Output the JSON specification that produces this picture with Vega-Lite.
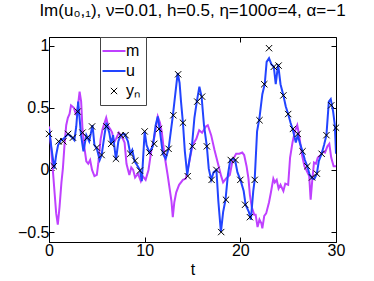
{
"$schema":"https://vega.github.io/schema/vega-lite/v6.json",
"width":287,"height":205,
"autosize":"none",
"padding":{"left":49,"top":37,"right":38,"bottom":39},
"background":"white",
"config":{"font":"Liberation Sans","view":{"stroke":"black","strokeWidth":1},
 "axis":{"domainColor":"black","tickColor":"black","labelColor":"black","titleColor":"black","labelFontSize":16,"titleFontSize":16,"titleFontWeight":"normal","grid":false,"tickSize":-5,"labelFlush":false,"labelOverlap":false,"labelFont":"Liberation Sans","titleFont":"Liberation Sans"}},
"title":{"text":"Im(u₀,₁), ν=0.01, h=0.5, η=100σ=4, α=−1","fontSize":17,"fontWeight":"normal","color":"black","anchor":"middle","offset":4,"baseline":"alphabetic","font":"Liberation Sans"},
"data":{"values":[
{"s":"m","t":0,"v":0.35},{"s":"m","t":0.2,"v":0.2},{"s":"m","t":0.4,"v":0.0},{"s":"m","t":0.6,"v":-0.2},{"s":"m","t":0.75,"v":-0.35},{"s":"m","t":0.92,"v":-0.44},{"s":"m","t":1.1,"v":-0.3},{"s":"m","t":1.3,"v":-0.1},{"s":"m","t":1.45,"v":0.01},{"s":"m","t":1.62,"v":0.2},{"s":"m","t":1.8,"v":0.36},{"s":"m","t":1.97,"v":0.42},{"s":"m","t":2.15,"v":0.45},{"s":"m","t":2.3,"v":0.52},{"s":"m","t":2.6,"v":0.5},{"s":"m","t":2.84,"v":0.44},{"s":"m","t":3.0,"v":0.5},{"s":"m","t":3.2,"v":0.63},{"s":"m","t":3.36,"v":0.55},{"s":"m","t":3.5,"v":0.33},{"s":"m","t":3.7,"v":0.18},{"s":"m","t":3.9,"v":0.07},{"s":"m","t":4.1,"v":0.05},{"s":"m","t":4.3,"v":0.08},{"s":"m","t":4.5,"v":0.0},{"s":"m","t":4.75,"v":-0.05},{"s":"m","t":5.0,"v":-0.04},{"s":"m","t":5.15,"v":0.05},{"s":"m","t":5.4,"v":0.25},{"s":"m","t":5.6,"v":0.33},{"s":"m","t":5.98,"v":0.42},{"s":"m","t":6.2,"v":0.35},{"s":"m","t":6.4,"v":0.33},{"s":"m","t":6.6,"v":0.3},{"s":"m","t":6.8,"v":0.22},{"s":"m","t":7.0,"v":0.25},{"s":"m","t":7.3,"v":0.3},{"s":"m","t":7.6,"v":0.27},{"s":"m","t":7.9,"v":0.22},{"s":"m","t":8.1,"v":0.05},{"s":"m","t":8.4,"v":-0.04},{"s":"m","t":8.6,"v":0.02},{"s":"m","t":8.8,"v":0.0},{"s":"m","t":9.0,"v":-0.06},{"s":"m","t":9.3,"v":-0.03},{"s":"m","t":9.6,"v":-0.09},{"s":"m","t":9.8,"v":-0.05},{"s":"m","t":10.1,"v":-0.08},{"s":"m","t":10.4,"v":0.0},{"s":"m","t":10.7,"v":0.16},{"s":"m","t":11.0,"v":0.26},{"s":"m","t":11.37,"v":0.43},{"s":"m","t":11.6,"v":0.38},{"s":"m","t":11.8,"v":0.3},{"s":"m","t":12.07,"v":0.12},{"s":"m","t":12.4,"v":-0.04},{"s":"m","t":12.8,"v":-0.25},{"s":"m","t":12.94,"v":-0.38},{"s":"m","t":13.1,"v":-0.26},{"s":"m","t":13.3,"v":-0.18},{"s":"m","t":13.6,"v":-0.12},{"s":"m","t":14.0,"v":-0.08},{"s":"m","t":14.3,"v":-0.07},{"s":"m","t":14.7,"v":0.08},{"s":"m","t":15.0,"v":0.2},{"s":"m","t":15.4,"v":0.25},{"s":"m","t":15.7,"v":0.32},{"s":"m","t":16.0,"v":0.3},{"s":"m","t":16.4,"v":0.35},{"s":"m","t":16.6,"v":0.36},{"s":"m","t":16.95,"v":0.28},{"s":"m","t":17.3,"v":0.16},{"s":"m","t":17.7,"v":0.04},{"s":"m","t":18.0,"v":-0.05},{"s":"m","t":18.2,"v":-0.1},{"s":"m","t":18.5,"v":-0.07},{"s":"m","t":18.9,"v":-0.04},{"s":"m","t":19.2,"v":0.08},{"s":"m","t":19.56,"v":0.13},{"s":"m","t":19.9,"v":0.13},{"s":"m","t":20.2,"v":0.14},{"s":"m","t":20.4,"v":0.12},{"s":"m","t":20.65,"v":0.03},{"s":"m","t":20.85,"v":-0.07},{"s":"m","t":21.0,"v":-0.2},{"s":"m","t":21.2,"v":-0.3},{"s":"m","t":21.45,"v":-0.36},{"s":"m","t":21.6,"v":-0.36},{"s":"m","t":21.8,"v":-0.46},{"s":"m","t":22.0,"v":-0.4},{"s":"m","t":22.2,"v":-0.43},{"s":"m","t":22.3,"v":-0.47},{"s":"m","t":22.5,"v":-0.37},{"s":"m","t":22.7,"v":-0.35},{"s":"m","t":23.0,"v":-0.26},{"s":"m","t":23.2,"v":-0.18},{"s":"m","t":23.45,"v":-0.07},{"s":"m","t":23.6,"v":-0.1},{"s":"m","t":23.8,"v":-0.08},{"s":"m","t":24.0,"v":-0.15},{"s":"m","t":24.2,"v":-0.12},{"s":"m","t":24.5,"v":-0.17},{"s":"m","t":24.7,"v":-0.11},{"s":"m","t":25.0,"v":-0.12},{"s":"m","t":25.2,"v":0.1},{"s":"m","t":25.45,"v":0.22},{"s":"m","t":25.7,"v":0.31},{"s":"m","t":25.95,"v":0.36},{"s":"m","t":26.1,"v":0.3},{"s":"m","t":26.3,"v":0.2},{"s":"m","t":26.45,"v":0.12},{"s":"m","t":26.7,"v":0.03},{"s":"m","t":26.95,"v":-0.01},{"s":"m","t":27.2,"v":-0.05},{"s":"m","t":27.35,"v":-0.24},{"s":"m","t":27.5,"v":-0.1},{"s":"m","t":27.7,"v":0.06},{"s":"m","t":27.9,"v":0.05},{"s":"m","t":28.1,"v":0.1},{"s":"m","t":28.4,"v":0.12},{"s":"m","t":28.6,"v":0.15},{"s":"m","t":28.85,"v":0.14},{"s":"m","t":29.1,"v":0.19},{"s":"m","t":29.3,"v":0.21},{"s":"m","t":29.5,"v":0.1},{"s":"m","t":29.75,"v":0.03},{"s":"m","t":30,"v":0.03},
{"s":"u","t":0,"v":0.33},{"s":"u","t":0.25,"v":0.18},{"s":"u","t":0.55,"v":0.01},{"s":"u","t":0.75,"v":0.12},{"s":"u","t":0.95,"v":0.2},{"s":"u","t":1.25,"v":0.24},{"s":"u","t":1.5,"v":0.25},{"s":"u","t":2.0,"v":0.29},{"s":"u","t":2.3,"v":0.27},{"s":"u","t":2.65,"v":0.24},{"s":"u","t":2.85,"v":0.35},{"s":"u","t":3.05,"v":0.55},{"s":"u","t":3.35,"v":0.28},{"s":"u","t":3.6,"v":0.15},{"s":"u","t":3.9,"v":0.28},{"s":"u","t":4.2,"v":0.23},{"s":"u","t":4.55,"v":0.36},{"s":"u","t":4.75,"v":0.2},{"s":"u","t":5.0,"v":0.17},{"s":"u","t":5.3,"v":0.08},{"s":"u","t":5.5,"v":0.12},{"s":"u","t":5.8,"v":0.28},{"s":"u","t":6.0,"v":0.38},{"s":"u","t":6.3,"v":0.3},{"s":"u","t":6.5,"v":0.21},{"s":"u","t":6.7,"v":0.28},{"s":"u","t":7.0,"v":0.08},{"s":"u","t":7.25,"v":0.23},{"s":"u","t":7.5,"v":0.28},{"s":"u","t":7.9,"v":0.29},{"s":"u","t":8.25,"v":0.23},{"s":"u","t":8.5,"v":0.13},{"s":"u","t":8.7,"v":0.16},{"s":"u","t":8.95,"v":0.07},{"s":"u","t":9.2,"v":0.04},{"s":"u","t":9.5,"v":0.0},{"s":"u","t":9.7,"v":-0.09},{"s":"u","t":10.0,"v":0.31},{"s":"u","t":10.2,"v":0.2},{"s":"u","t":10.5,"v":0.14},{"s":"u","t":10.85,"v":0.19},{"s":"u","t":11.15,"v":0.36},{"s":"u","t":11.37,"v":0.43},{"s":"u","t":11.6,"v":0.31},{"s":"u","t":11.9,"v":0.13},{"s":"u","t":12.2,"v":0.09},{"s":"u","t":12.5,"v":0.17},{"s":"u","t":12.95,"v":0.44},{"s":"u","t":13.2,"v":0.61},{"s":"u","t":13.45,"v":0.78},{"s":"u","t":13.65,"v":0.7},{"s":"u","t":13.8,"v":0.55},{"s":"u","t":14.0,"v":0.38},{"s":"u","t":14.2,"v":0.15},{"s":"u","t":14.45,"v":-0.04},{"s":"u","t":14.7,"v":0.09},{"s":"u","t":14.95,"v":0.2},{"s":"u","t":15.2,"v":0.42},{"s":"u","t":15.45,"v":0.55},{"s":"u","t":15.72,"v":0.67},{"s":"u","t":15.95,"v":0.59},{"s":"u","t":16.2,"v":0.36},{"s":"u","t":16.5,"v":0.19},{"s":"u","t":16.7,"v":0.01},{"s":"u","t":16.95,"v":-0.08},{"s":"u","t":17.2,"v":-0.02},{"s":"u","t":17.5,"v":0.0},{"s":"u","t":17.7,"v":-0.25},{"s":"u","t":17.97,"v":-0.5},{"s":"u","t":18.2,"v":-0.34},{"s":"u","t":18.45,"v":-0.24},{"s":"u","t":18.7,"v":-0.04},{"s":"u","t":18.95,"v":0.08},{"s":"u","t":19.2,"v":0.09},{"s":"u","t":19.45,"v":0.08},{"s":"u","t":19.7,"v":-0.02},{"s":"u","t":20.05,"v":-0.09},{"s":"u","t":20.35,"v":-0.17},{"s":"u","t":20.55,"v":-0.28},{"s":"u","t":20.9,"v":-0.34},{"s":"u","t":21.1,"v":-0.4},{"s":"u","t":21.35,"v":-0.17},{"s":"u","t":21.5,"v":-0.08},{"s":"u","t":21.75,"v":0.31},{"s":"u","t":22.0,"v":0.42},{"s":"u","t":22.3,"v":0.61},{"s":"u","t":22.55,"v":0.69},{"s":"u","t":22.75,"v":0.87},{"s":"u","t":23.0,"v":0.9},{"s":"u","t":23.25,"v":0.85},{"s":"u","t":23.5,"v":0.83},{"s":"u","t":23.7,"v":0.69},{"s":"u","t":23.95,"v":0.85},{"s":"u","t":24.2,"v":0.69},{"s":"u","t":24.5,"v":0.6},{"s":"u","t":24.75,"v":0.51},{"s":"u","t":25.0,"v":0.45},{"s":"u","t":25.25,"v":0.38},{"s":"u","t":25.5,"v":0.32},{"s":"u","t":25.8,"v":0.22},{"s":"u","t":26.0,"v":0.28},{"s":"u","t":26.25,"v":0.21},{"s":"u","t":26.5,"v":0.15},{"s":"u","t":26.75,"v":0.08},{"s":"u","t":27.0,"v":0.03},{"s":"u","t":27.25,"v":-0.04},{"s":"u","t":27.55,"v":-0.07},{"s":"u","t":27.75,"v":-0.07},{"s":"u","t":28.0,"v":-0.03},{"s":"u","t":28.2,"v":0.07},{"s":"u","t":28.5,"v":0.13},{"s":"u","t":28.75,"v":0.2},{"s":"u","t":29.0,"v":0.28},{"s":"u","t":29.25,"v":0.55},{"s":"u","t":29.45,"v":0.57},{"s":"u","t":29.7,"v":0.47},{"s":"u","t":29.88,"v":0.36},{"s":"u","t":30,"v":0.13},
{"s":"yₙ","t":0,"v":0.29},{"s":"yₙ","t":0.5,"v":0.03},{"s":"yₙ","t":1,"v":0.23},{"s":"yₙ","t":1.5,"v":0.23},{"s":"yₙ","t":2,"v":0.29},{"s":"yₙ","t":2.5,"v":0.26},{"s":"yₙ","t":3,"v":0.47},{"s":"yₙ","t":3.5,"v":0.3},{"s":"yₙ","t":4,"v":0.26},{"s":"yₙ","t":4.5,"v":0.35},{"s":"yₙ","t":5,"v":0.18},{"s":"yₙ","t":5.5,"v":0.12},{"s":"yₙ","t":6,"v":0.35},{"s":"yₙ","t":6.5,"v":0.21},{"s":"yₙ","t":7,"v":0.09},{"s":"yₙ","t":7.5,"v":0.28},{"s":"yₙ","t":8,"v":0.28},{"s":"yₙ","t":8.5,"v":0.13},{"s":"yₙ","t":9,"v":0.075},{"s":"yₙ","t":9.5,"v":-0.005},{"s":"yₙ","t":10,"v":0.31},{"s":"yₙ","t":10.5,"v":0.14},{"s":"yₙ","t":11,"v":0.21},{"s":"yₙ","t":11.5,"v":0.33},{"s":"yₙ","t":12,"v":0.14},{"s":"yₙ","t":12.5,"v":0.17},{"s":"yₙ","t":13,"v":0.44},{"s":"yₙ","t":13.5,"v":0.77},{"s":"yₙ","t":14,"v":0.38},{"s":"yₙ","t":14.5,"v":-0.05},{"s":"yₙ","t":15,"v":0.19},{"s":"yₙ","t":15.5,"v":0.55},{"s":"yₙ","t":16,"v":0.59},{"s":"yₙ","t":16.5,"v":0.19},{"s":"yₙ","t":17,"v":-0.08},{"s":"yₙ","t":17.5,"v":0.0},{"s":"yₙ","t":18,"v":-0.5},{"s":"yₙ","t":18.5,"v":-0.24},{"s":"yₙ","t":19,"v":0.08},{"s":"yₙ","t":19.5,"v":0.08},{"s":"yₙ","t":20,"v":-0.08},{"s":"yₙ","t":20.5,"v":-0.28},{"s":"yₙ","t":21,"v":-0.38},{"s":"yₙ","t":21.5,"v":-0.08},{"s":"yₙ","t":22,"v":0.4},{"s":"yₙ","t":22.5,"v":0.69},{"s":"yₙ","t":23,"v":0.98},{"s":"yₙ","t":23.5,"v":0.83},{"s":"yₙ","t":24,"v":0.84},{"s":"yₙ","t":24.5,"v":0.6},{"s":"yₙ","t":25,"v":0.45},{"s":"yₙ","t":25.5,"v":0.33},{"s":"yₙ","t":26,"v":0.29},{"s":"yₙ","t":26.5,"v":0.15},{"s":"yₙ","t":27,"v":0.03},{"s":"yₙ","t":27.5,"v":-0.06},{"s":"yₙ","t":28,"v":-0.03},{"s":"yₙ","t":28.5,"v":0.13},{"s":"yₙ","t":29,"v":0.28},{"s":"yₙ","t":29.5,"v":0.52},{"s":"yₙ","t":30,"v":0.34}
]},
"layer":[
{"transform":[{"filter":"datum.s !== 'yₙ'"}],
 "mark":{"type":"line","strokeWidth":2,"clip":true},
 "encoding":{
  "x":{"field":"t","type":"quantitative","scale":{"domain":[0,30],"nice":false,"zero":false},"axis":{"orient":"bottom","values":[0,10,20,30],"format":"d","title":"t","labelPadding":5,"titlePadding":3}},
  "y":{"field":"v","type":"quantitative","scale":{"domain":[-0.58,1.07],"nice":false,"zero":false},"axis":{"orient":"left","values":[-0.5,0,0.5,1],"format":"~g","title":null,"labelPadding":5}},
  "color":{"field":"s","type":"nominal","scale":{"domain":["m","u","yₙ"],"range":["#bf40ff","#2244ff","#000000"]},
   "legend":{"orient":"none","legendX":51,"legendY":0,"title":null,"symbolType":"stroke","symbolSize":529,"symbolStrokeWidth":2,"labelFontSize":16,"labelFont":"Liberation Sans","labelColor":"black","labelOffset":4,"padding":6,"rowPadding":4,"strokeColor":"#444444","fillColor":"white",
    "encode":{"symbols":{"update":{"shape":{"signal":"datum.value === 'yₙ' ? 'M-1,-1L1,1M1,-1L-1,1' : 'stroke'"},"size":{"signal":"datum.value === 'yₙ' ? 40 : 529"},"strokeWidth":{"signal":"datum.value === 'yₙ' ? 1 : 2"}}}}}}
 }},
{"transform":[{"filter":"datum.s === 'yₙ'"}],
 "mark":{"type":"point","shape":"M-1,-1L1,1M1,-1L-1,1","size":40,"filled":false,"strokeWidth":1,"opacity":1},
 "encoding":{
  "x":{"field":"t","type":"quantitative","axis":{"orient":"top","values":[0,10,20,30],"labels":false,"title":null,"domain":false}},
  "y":{"field":"v","type":"quantitative","axis":{"orient":"right","values":[-0.5,0,0.5,1],"labels":false,"title":null,"domain":false}},
  "color":{"field":"s","type":"nominal"}
 }}
]
}
